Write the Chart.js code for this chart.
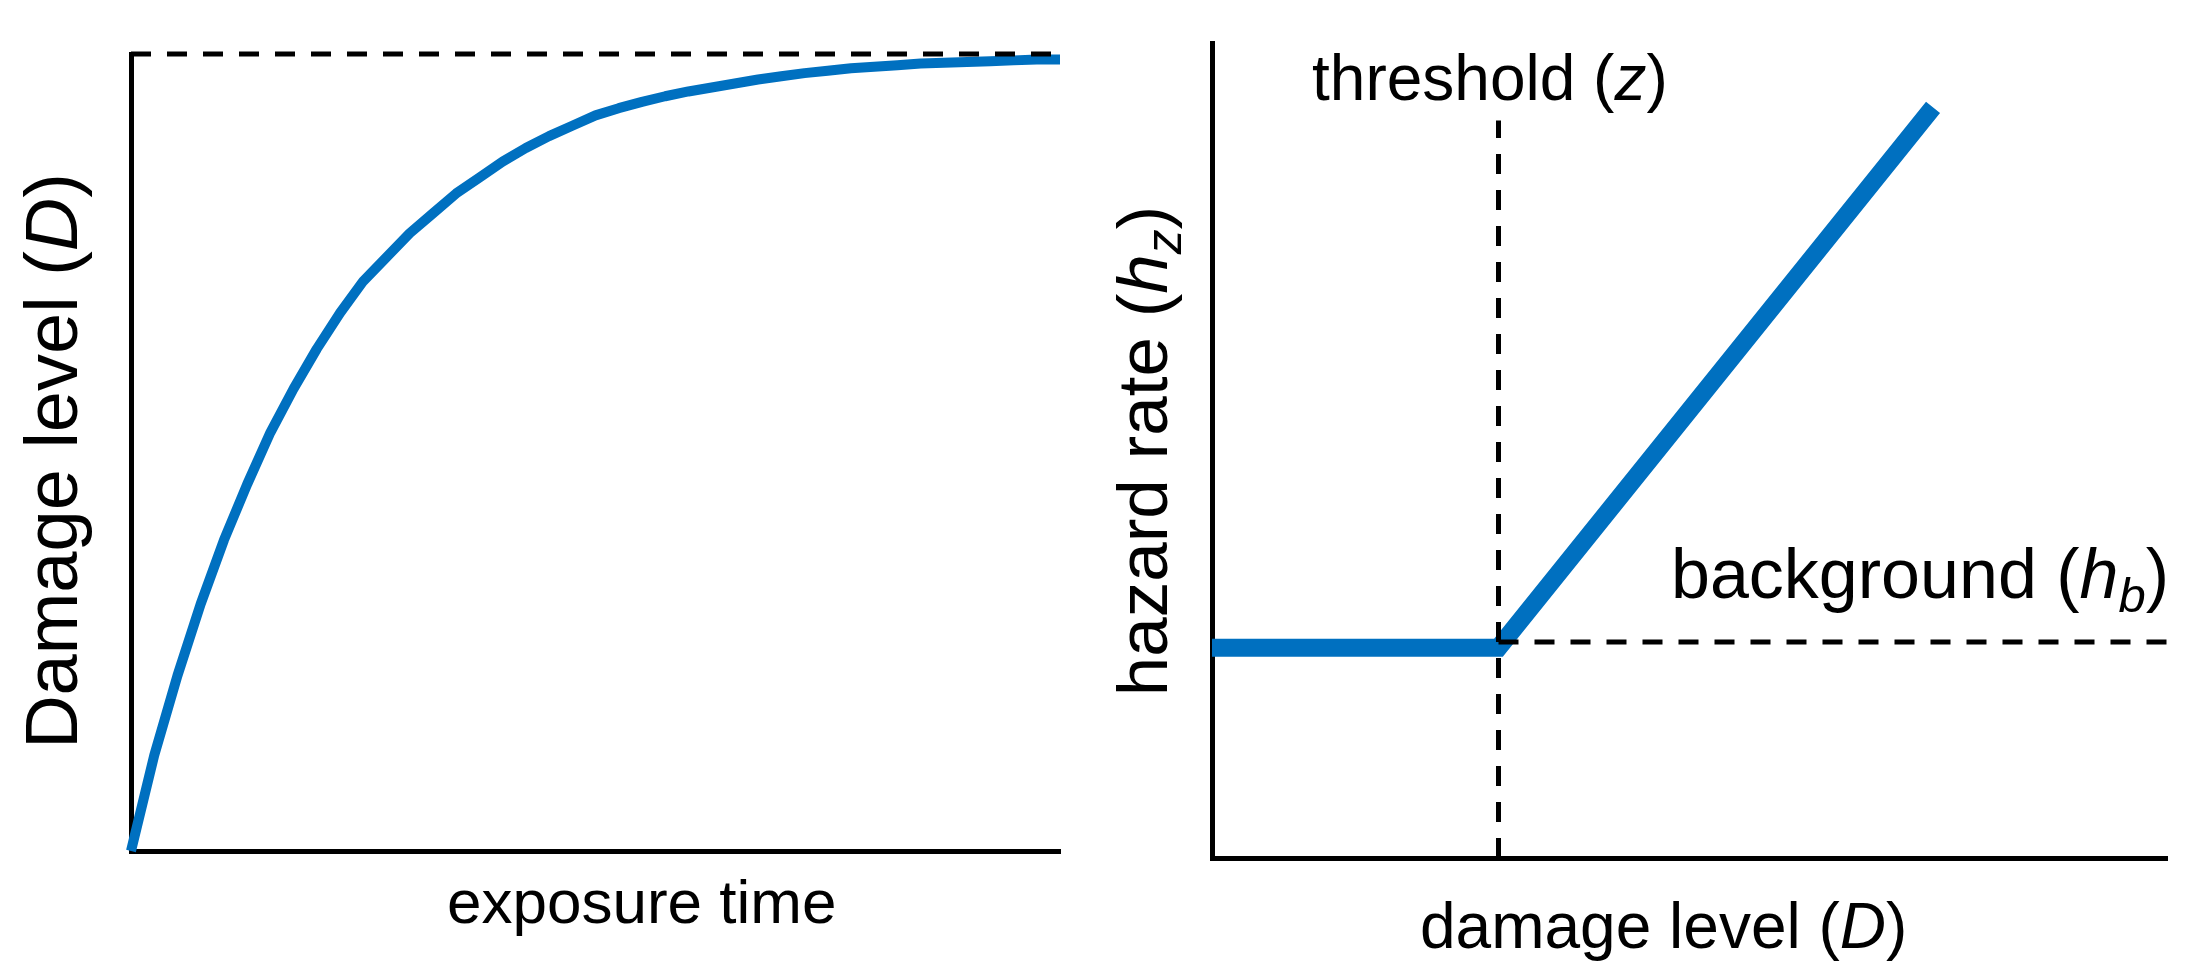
<!DOCTYPE html>
<html>
<head>
<meta charset="utf-8">
<title>Damage and hazard</title>
<script src="https://cdn.jsdelivr.net/npm/chart.js@4.4.1/dist/chart.umd.min.js"></script>
<style>
  html, body { margin: 0; padding: 0; background: #fff; }
  body { width: 2208px; height: 970px; position: relative; overflow: hidden; }
  canvas { position: absolute; top: 0; }
  #chart-damage { left: 0; }
  #chart-hazard { left: 1090px; }
</style>
</head>
<body>
<canvas id="chart-damage" width="1090" height="970"></canvas>
<canvas id="chart-hazard" width="1118" height="970"></canvas>
<script>
// left panel: damage accumulation over exposure time
const exposureTime = [0, 2.5, 5, 7.5, 10, 12.5, 15, 17.5, 20, 22.5, 25, 27.5, 30, 32.5, 35, 37.5, 40,
  42.5, 45, 47.5, 50, 52.5, 55, 57.5, 60, 62.5, 65, 67.5, 70, 72.5, 75, 77.5, 80, 82.5, 85, 87.5,
  90, 92.5, 95, 97.5, 100];
const damageLevel = [0, 12, 22, 31, 39, 46, 52.5, 58, 63, 67.5, 71.5, 74.5, 77.5, 80, 82.5, 84.5, 86.5,
  88.2, 89.7, 91, 92.3, 93.2, 94, 94.7, 95.3, 95.8, 96.3, 96.8, 97.2, 97.6, 97.9, 98.2, 98.4, 98.6, 98.8, 98.9,
  99, 99.1, 99.2, 99.3, 99.3];
const damageMax = 100;

// right panel: hazard rate vs damage level
const damageAxis = [0, 30, 75.5];
const hazardRate = [25.8, 25.8, 92.1];
const threshold = 30;
const thresholdTop = 90.5;
const background = 26.5;

const BLUE = "#0070c0";
const FONT = '"Liberation Sans", Arial, Helvetica, sans-serif';

function drawParts(ctx, parts, x, y, size, rotated) {
  ctx.save();
  ctx.fillStyle = "#000";
  ctx.textBaseline = "alphabetic";
  ctx.translate(x, y);
  let total = 0;
  parts.forEach(function(p) {
    let s = p.sub ? size * 0.7 : size;
    ctx.font = (p.italic ? "italic " : "") + s + "px " + FONT;
    total += ctx.measureText(p.text).width;
  });
  let cx = 0;
  if (rotated) {
    ctx.rotate(-Math.PI / 2);
    cx = -total / 2;
  }
  parts.forEach(function(p) {
    let s = p.sub ? size * 0.7 : size;
    ctx.font = (p.italic ? "italic " : "") + s + "px " + FONT;
    ctx.fillText(p.text, cx, p.sub ? size * 0.2 : 0);
    cx += ctx.measureText(p.text).width;
  });
  ctx.restore();
}

function labelPlugin(labels) {
  return {
    id: "labels",
    afterDraw: function(chart) {
      labels.forEach(function(l) {
        drawParts(chart.ctx, l.parts, l.x, l.y, l.size, l.rotated);
      });
    }
  };
}

function axisOptions() {
  return {
    type: "linear",
    min: 0,
    max: 100,
    grid: { display: false, drawTicks: false },
    ticks: { display: false, padding: 0 },
    border: { display: true, color: "#000", width: 5 }
  };
}

function baseOptions(padding) {
  return {
    responsive: false,
    animation: false,
    layout: { padding: padding, autoPadding: false },
    plugins: { legend: { display: false }, tooltip: { enabled: false } },
    elements: { point: { radius: 0 }, line: { tension: 0 } },
    scales: { x: axisOptions(), y: axisOptions() }
  };
}

function dashed(points) {
  return {
    data: points,
    borderColor: "#000",
    borderWidth: 5,
    borderDash: [20, 16],
    fill: false,
    clip: false
  };
}

let ctx = document.getElementById("chart-damage").getContext("2d");
window.damageChart = new Chart(ctx, {
  type: "line",
  data: {
    datasets: [
      dashed([{ x: 0, y: damageMax }, { x: 100, y: damageMax }]),
      {
        data: exposureTime.map(function(t, i) { return { x: t, y: damageLevel[i] }; }),
        borderColor: BLUE,
        borderWidth: 10,
        borderJoinStyle: "round",
        fill: false,
        clip: false
      }
    ]
  },
  options: baseOptions({ left: 131, right: 30, top: 54, bottom: 119 }),
  plugins: [labelPlugin([
    { parts: [{ text: "Damage level (" }, { text: "D", italic: true }, { text: ")" }], x: 77, y: 461, size: 74, rotated: true },
    { parts: [{ text: "exposure time" }], x: 447, y: 923, size: 62 }
  ])]
});

ctx = document.getElementById("chart-hazard").getContext("2d");
window.hazardChart = new Chart(ctx, {
  type: "line",
  data: {
    datasets: [
      dashed([{ x: threshold, y: 0 }, { x: threshold, y: thresholdTop }]),
      dashed([{ x: threshold, y: background }, { x: 100, y: background }]),
      {
        data: damageAxis.map(function(d, i) { return { x: d, y: hazardRate[i] }; }),
        borderColor: BLUE,
        borderWidth: 18,
        borderJoinStyle: "miter",
        fill: false,
        clip: false
      }
    ]
  },
  options: baseOptions({ left: 122, right: 41, top: 43, bottom: 112 }),
  plugins: [labelPlugin([
    { parts: [{ text: "hazard rate (" }, { text: "h", italic: true }, { text: "z", italic: true, sub: true }, { text: ")" }], x: 77, y: 451, size: 71, rotated: true },
    { parts: [{ text: "threshold (" }, { text: "z", italic: true }, { text: ")" }], x: 222, y: 100, size: 64 },
    { parts: [{ text: "background (" }, { text: "h", italic: true }, { text: "b", italic: true, sub: true }, { text: ")" }], x: 581, y: 598, size: 70 },
    { parts: [{ text: "damage level (" }, { text: "D", italic: true }, { text: ")" }], x: 330, y: 948, size: 64 }
  ])]
});
</script>
</body>
</html>
